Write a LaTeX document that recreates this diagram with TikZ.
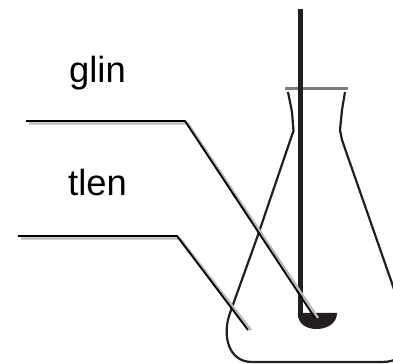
\documentclass[tikz,border=0pt]{standalone}
\usepackage{fontspec}
\setmainfont{Liberation Sans}
\definecolor{flaskblack}{RGB}{35,31,32}
\definecolor{rimgray}{RGB}{125,125,125}
\definecolor{shadowgray}{RGB}{185,185,185}
\usetikzlibrary{calc}
\tikzset{
  flaskline/.style={draw=flaskblack, line width=1.25pt, line join=round},
  leaderline/.style={draw=black, line width=1.05pt, line join=miter},
  leadershadow/.style={draw=shadowgray, line width=1.3pt},
  partlabel/.style={font=\fontsize{20.7}{24}\selectfont, anchor=base, inner sep=0pt}
}

\begin{document}
\begin{tikzpicture}[x=0.02cm, y=-0.02cm]
    \useasboundingbox (0,0) rectangle (393,364);
    \clip (0,0) rectangle (393,364);

    % Flask rim
    \draw[rimgray, line width=1.2pt] (285,88.5) -- (348,88.5);

    % Flask body
    \draw[flaskline] (288,92) -- (292,112) -- (293.5,131) -- (291,138) -- (258,235)
        -- (230,313) .. controls (222,335) and (228,362) .. (252,362)
        -- (382,362) .. controls (412,362) and (410,335) .. (402,312)
        -- (342,140) -- (340,130) -- (342,110) -- (345,92);

    % Rod and ladle
    \fill[flaskblack] (297.8,9) rectangle (302.8,318);
    \fill[flaskblack] (297.8,313) -- (337,313) .. controls (337,324) and (326,329) .. (317,329)
        .. controls (306,329) and (297.8,324) .. (297.8,313) -- cycle;

    % Leader for glin
    \coordinate (glinstart) at (26,121);
    \coordinate (glinbend) at (185,121);
    \coordinate (glinend) at (315,318);
    \draw[leadershadow] ($(glinstart)+(3,2.5)$) -- ($(glinbend)+(3,2.5)$) -- ($(glinend)+(3,0)$);
    \draw[leaderline] (glinstart) -- (glinbend) -- (glinend);

    % Leader for tlen
    \coordinate (tlenstart) at (18,236);
    \coordinate (tlenbend) at (177,236);
    \coordinate (tlenend) at (248,330);
    \draw[leadershadow] ($(tlenstart)+(3,2.5)$) -- ($(tlenbend)+(3,2.5)$) -- ($(tlenend)+(3,0)$);
    \draw[leaderline] (tlenstart) -- (tlenbend) -- (tlenend);

    % Labels
    \node[partlabel] (glin) at (97.5,83) {glin};
    \node[partlabel] (tlen) at (97.5,196) {tlen};
\end{tikzpicture}
\end{document}
